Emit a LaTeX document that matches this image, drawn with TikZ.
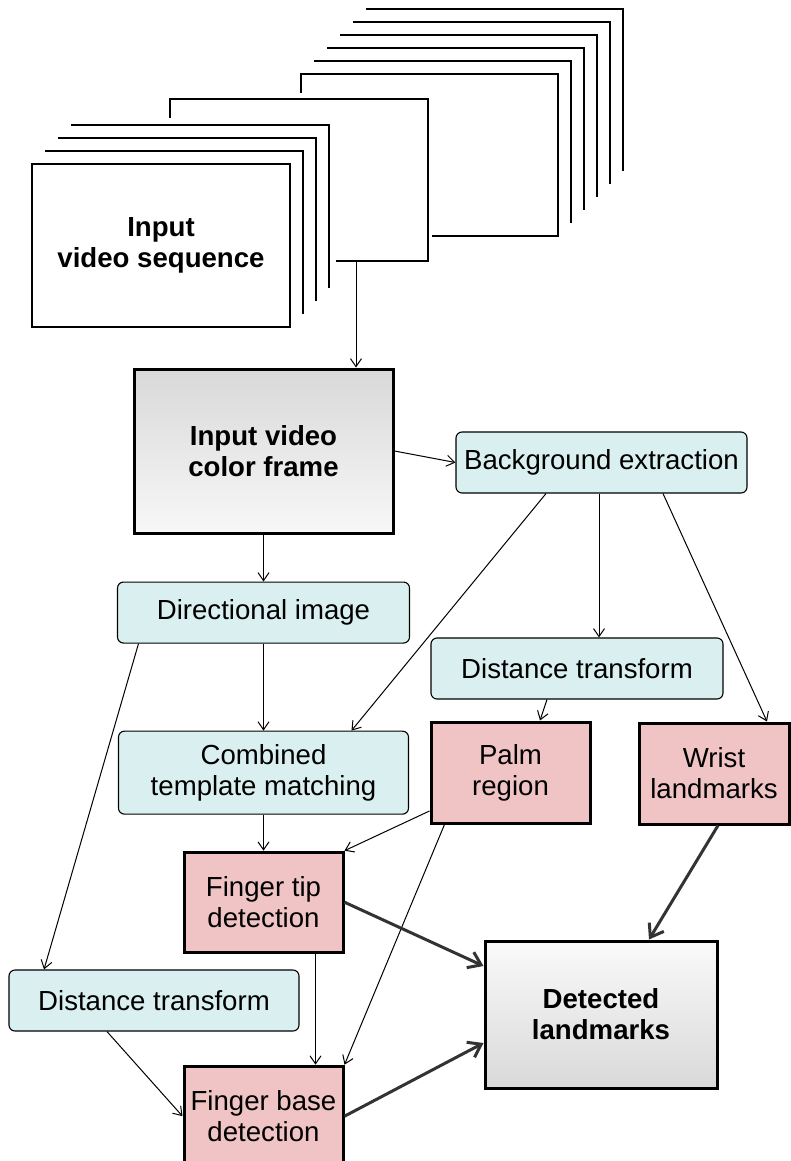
\documentclass[tikz,border=0pt]{standalone}
\usepackage{fontspec}
\setmainfont{Liberation Sans}
\usepackage{xcolor}
\usepackage{tikz}
\usetikzlibrary{positioning, arrows.meta}

\definecolor{cyanbox}{RGB}{218,240,240}
\definecolor{pinkbox}{RGB}{240,196,196}

\begin{document}
\begin{tikzpicture}[
        x=1pt, y=-1pt,
        font=\fontsize{27.6pt}{31pt}\selectfont,
        heavy/.style={font=\fontsize{27.6pt}{31pt}\selectfont\bfseries},
        frm/.style={draw, line width=1.2pt},
        proc/.style={
            draw,
            line width=1.1pt,
            rounded corners=6pt,
            minimum height=61pt,
            align=center,
            inner sep=0pt,
            fill=cyanbox
        },
        stage/.style={
            draw,
            line width=3pt,
            minimum width=159pt,
            minimum height=100pt,
            align=center,
            inner sep=0pt,
            fill=pinkbox
        },
        keybox/.style={draw, line width=3pt, align=center, inner sep=0pt, heavy},
        arrow/.style={-{Straight Barb[length=8pt,width=11pt]}, line width=1pt},
        bigarrow/.style={-{Straight Barb[length=12pt,width=17pt]}, line width=3pt, draw=black!80}
    ]

        \useasboundingbox (0,0) rectangle (790,1161);

        % frames of the sequence, back to front
        \foreach \k in {5,4,3,2,1}
            \draw[frm] (301+13*\k,74-13*\k) -- (558+13*\k,74-13*\k) -- (558+13*\k,236-13*\k);
        \draw[frm] (301,93) -- (301,74) -- (558,74) -- (558,236) -- (432,236);
        \draw[frm] (170,118) -- (170,99) -- (428,99) -- (428,261) -- (336,261);
        \foreach \k in {3,2,1}
            \draw[frm] (32+13*\k,164-13*\k) -- (290+13*\k,164-13*\k) -- (290+13*\k,327-13*\k);

        \node[frm, minimum width=258pt, minimum height=163pt, align=center, heavy] (seq) at (161,245.5) {Input\\video sequence};
        \coordinate (seqout) at (356,261);

        \node[keybox, minimum width=259pt, minimum height=164pt, top color=black!15, bottom color=black!3] (frame) at (263.5,451) {Input video\\color frame};

        \node[proc, minimum width=291pt] (bg) at (601.5,462.5) {Background extraction};

        \node[proc, minimum width=292pt, below=47pt of frame] (dir) {Directional image};

        \node[proc, minimum width=290pt, minimum height=83pt, below=87pt of dir] (comb) {Combined\\template matching};

        \node[proc, minimum width=292pt] (distR) at (577,668.5) {Distance transform};

        \node[stage, minimum height=101pt] (palm) at (510.5,772.5) {Palm\\region};

        \node[stage, minimum width=150pt, minimum height=101pt] (wrist) at (714,773.5) {Wrist\\landmarks};

        \node[stage, below=36pt of comb] (tip) {Finger tip\\detection};

        \node[stage, below=111pt of tip] (base) {Finger base\\detection};

        \node[proc, minimum width=290pt] (distL) at (154,1000.5) {Distance transform};

        \node[keybox, minimum width=232pt, minimum height=147pt, top color=black!2, bottom color=black!15] (det) at (601,1014.5) {Detected\\landmarks};

        \draw[arrow] (seqout) -- (seqout |- frame.north);
        \draw[arrow] (frame.east) -- (bg.west);
        \draw[arrow] (frame.south) -- (dir.north);
        \draw[arrow] ([xshift=-2.5pt]bg.south) -- ([xshift=22pt]distR.north);
        \draw[arrow] ([xshift=-55.5pt]bg.south) -- ([xshift=88pt]comb.north);
        \draw[arrow] ([xshift=61.5pt]bg.south) -- ([xshift=53pt]wrist.north);
        \draw[arrow] ([xshift=-30pt]distR.south) -- ([xshift=29.5pt]palm.north);
        \draw[arrow] ([xshift=-125pt]dir.south) -- ([xshift=-110pt]distL.north);
        \draw[arrow] (dir.south) -- (comb.north);
        \draw[arrow] (comb.south) -- (tip.north);
        \draw[arrow] ([yshift=-38.5pt]palm.west) -- (tip.north east);
        \draw[arrow] ([xshift=15pt]palm.south west) -- (base.north east);
        \draw[arrow] ([xshift=52pt]tip.south) -- ([xshift=52pt]base.north);
        \draw[arrow] ([xshift=-47pt]distL.south) -- (base.west);

        \draw[bigarrow] (tip.east) -- ([yshift=48.5pt]det.west);
        \draw[bigarrow] (base.east) -- ([yshift=-28.5pt]det.west);
        \draw[bigarrow] ([xshift=4pt]wrist.south) -- ([xshift=48pt]det.north);

    \end{tikzpicture}
\end{document}
